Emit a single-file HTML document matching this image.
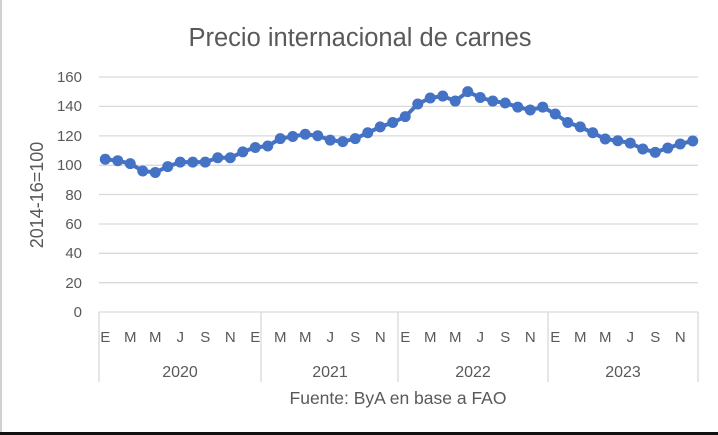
<!DOCTYPE html>
<html><head><meta charset="utf-8"><style>
html,body{margin:0;padding:0;background:#fff;}
svg{display:block;font-family:"Liberation Sans",sans-serif;}
</style></head><body>
<svg width="718" height="435" viewBox="0 0 718 435" xmlns="http://www.w3.org/2000/svg">
<rect width="718" height="435" fill="#fff"/>
<line x1="1" y1="0" x2="1" y2="432" stroke="#d0d0d0" stroke-width="2"/>
<line x1="0" y1="433.5" x2="718" y2="433.5" stroke="#111" stroke-width="3"/>
<text x="360" y="46" text-anchor="middle" font-size="25.5" fill="#595959">Precio internacional de carnes</text>
<g stroke="#d9d9d9" stroke-width="1.3">
<line x1="99" y1="77" x2="698" y2="77"/><line x1="99" y1="106.4" x2="698" y2="106.4"/>
<line x1="99" y1="135.9" x2="698" y2="135.9"/><line x1="99" y1="165.3" x2="698" y2="165.3"/>
<line x1="99" y1="194.5" x2="698" y2="194.5"/><line x1="99" y1="224" x2="698" y2="224"/>
<line x1="99" y1="253.3" x2="698" y2="253.3"/><line x1="99" y1="282.7" x2="698" y2="282.7"/>
<line x1="99" y1="312" x2="698" y2="312"/>
<line x1="99" y1="312" x2="99" y2="382"/><line x1="261" y1="312" x2="261" y2="382"/>
<line x1="398" y1="312" x2="398" y2="382"/><line x1="548" y1="312" x2="548" y2="382"/>
<line x1="698" y1="312" x2="698" y2="382"/>
</g>
<g font-size="15" fill="#595959" text-anchor="end">
<text x="82" y="82">160</text><text x="82" y="111">140</text><text x="82" y="141">120</text>
<text x="82" y="170">100</text><text x="82" y="200">80</text><text x="82" y="229">60</text>
<text x="82" y="258">40</text><text x="82" y="288">20</text><text x="82" y="317">0</text>
</g>
<text transform="translate(43,195) rotate(-90)" text-anchor="middle" font-size="18" fill="#595959">2014-16=100</text>
<g font-size="15" fill="#595959" text-anchor="middle" id="m"></g>
<g font-size="16" fill="#595959" text-anchor="middle">
<text x="180" y="377">2020</text><text x="330" y="377">2021</text>
<text x="473" y="377">2022</text><text x="623" y="377">2023</text>
</g>
<text x="398" y="404" text-anchor="middle" font-size="17.5" fill="#595959">Fuente: ByA en base a FAO</text>
<g id="s"></g>
<script>
var v=[104,103,101,96,95,99,102,102,102,105,105,109,112,113,118,119.5,121,120,117,116,118,122,126,129,133,141.6,145.7,147,143.6,150,146,143.6,142.3,139.5,137.5,139.5,134.8,129,126,122,117.8,116.6,115,111,108.7,111.6,114.4,116.4];
var lab=["E","M","M","J","S","N","E","M","M","J","S","N","E","M","M","J","S","N","E","M","M","J","S","N"];
var idx=[0,2,4,6,8,10,12,14,16,18,20,22,24,26,28,30,32,34,36,38,40,42,44,46];
var ns="http://www.w3.org/2000/svg";
var m=document.getElementById("m");
idx.forEach(function(i,k){var t=document.createElementNS(ns,"text");t.setAttribute("x",99+12.5*(i+0.5));t.setAttribute("y",342);t.textContent=lab[k];m.appendChild(t);});
var s=document.getElementById("s");var pts=v.map(function(d,i){return [99+12.5*(i+0.5),312-d*1.469];});
var pl=document.createElementNS(ns,"polyline");pl.setAttribute("points",pts.map(function(p){return p.join(",")}).join(" "));
pl.setAttribute("fill","none");pl.setAttribute("stroke","#4472C4");pl.setAttribute("stroke-width","4");s.appendChild(pl);
pts.forEach(function(p){var c=document.createElementNS(ns,"circle");c.setAttribute("cx",p[0]);c.setAttribute("cy",p[1]);c.setAttribute("r","5.5");c.setAttribute("fill","#4472C4");s.appendChild(c);});
</script>
</svg>
</body></html>
